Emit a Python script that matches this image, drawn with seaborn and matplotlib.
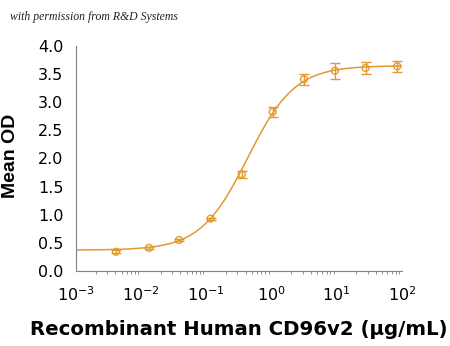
import numpy as np
import pandas as pd
import matplotlib
matplotlib.use("Agg")
import matplotlib.pyplot as plt
import seaborn as sns
from matplotlib.ticker import LogLocator, NullFormatter

# Data
conc = [0.0041, 0.0132, 0.038, 0.116, 0.35, 1.04, 3.15, 9.4, 27.8, 85.0]
mean_od = [0.34, 0.41, 0.55, 0.93, 1.72, 2.83, 3.41, 3.56, 3.61, 3.64]
err = [0.03, 0.02, 0.02, 0.02, 0.065, 0.09, 0.095, 0.14, 0.10, 0.10]

# 4PL fit parameters (estimated from the fitted curve)
fit_bottom = 0.37
fit_top = 3.65
fit_ec50 = 0.43
fit_hill = 1.2

x_ticks = [1e-3, 1e-2, 1e-1, 1e0, 1e1, 1e2]
x_ticklabels = ["$10^{-3}$", "$10^{-2}$", "$10^{-1}$", "$10^{0}$", "$10^{1}$", "$10^{2}$"]
y_ticks = [0.0, 0.5, 1.0, 1.5, 2.0, 2.5, 3.0, 3.5, 4.0]

sns.set_theme(style="white")
plt.rcParams['font.family'] = ['DejaVu Sans']
plt.rcParams['mathtext.fontset'] = 'dejavusans'

color = "#E39A2D"

fig = plt.figure(figsize=(4.5, 3.46), dpi=100)
ax = fig.add_axes([0.169, 0.217, 0.724, 0.650])

xs = np.logspace(-3, 2, 300)
ys = fit_bottom + (fit_top - fit_bottom) / (1 + (fit_ec50 / xs) ** fit_hill)
curve = pd.DataFrame({"x": xs, "y": ys})
pts = pd.DataFrame({"x": conc, "y": mean_od, "e": err})

sns.lineplot(data=curve, x="x", y="y", ax=ax, color=color, lw=1.1)
ax.errorbar(pts["x"], pts["y"], yerr=pts["e"], fmt="none", ecolor=color,
            elinewidth=1.0, capsize=3.5, capthick=1.0)
sns.scatterplot(data=pts, x="x", y="y", ax=ax, marker="o", s=24,
                facecolor="none", edgecolor=color, linewidth=1.0, zorder=5)

ax.set_xscale("log")
ax.set_xlim(1e-3, 1e2)
ax.set_ylim(0, 4.0)
ax.set_xticks(x_ticks)
ax.set_xticklabels(x_ticklabels)
ax.xaxis.set_minor_locator(LogLocator(base=10, subs=np.arange(2, 10)))
ax.xaxis.set_minor_formatter(NullFormatter())
ax.set_yticks(y_ticks)
ax.set_yticklabels([f"{v:.1f}" for v in y_ticks])

for s in ["top", "right"]:
    ax.spines[s].set_visible(False)
for s in ["left", "bottom"]:
    ax.spines[s].set_color("#808080")
    ax.spines[s].set_linewidth(0.8)

ax.tick_params(axis="both", which="major", direction="out", length=4,
               width=0.8, color="#808080", labelsize=11.5, labelcolor="#000000")
ax.tick_params(axis="x", which="minor", direction="out", length=2,
               width=0.6, color="#808080", bottom=True)
ax.tick_params(axis="x", which="major", pad=6)
ax.tick_params(axis="y", which="major", pad=5)

ax.set_xlabel("Recombinant Human CD96v2 (\u03bcg/mL)", fontsize=14.2,
              fontweight="bold", labelpad=12, color="#000000")
ax.set_ylabel("Mean OD", fontsize=14, fontweight="bold",
              family=["Liberation Sans", "DejaVu Sans"], color="#000000")
ax.yaxis.set_label_coords(-0.175, 0.512)

fig.text(0.022, 0.942, "with permission from R&D Systems", fontsize=8.5,
         style="italic", family="Liberation Serif", color="#222222")

fig.savefig("out.png", dpi=100)
